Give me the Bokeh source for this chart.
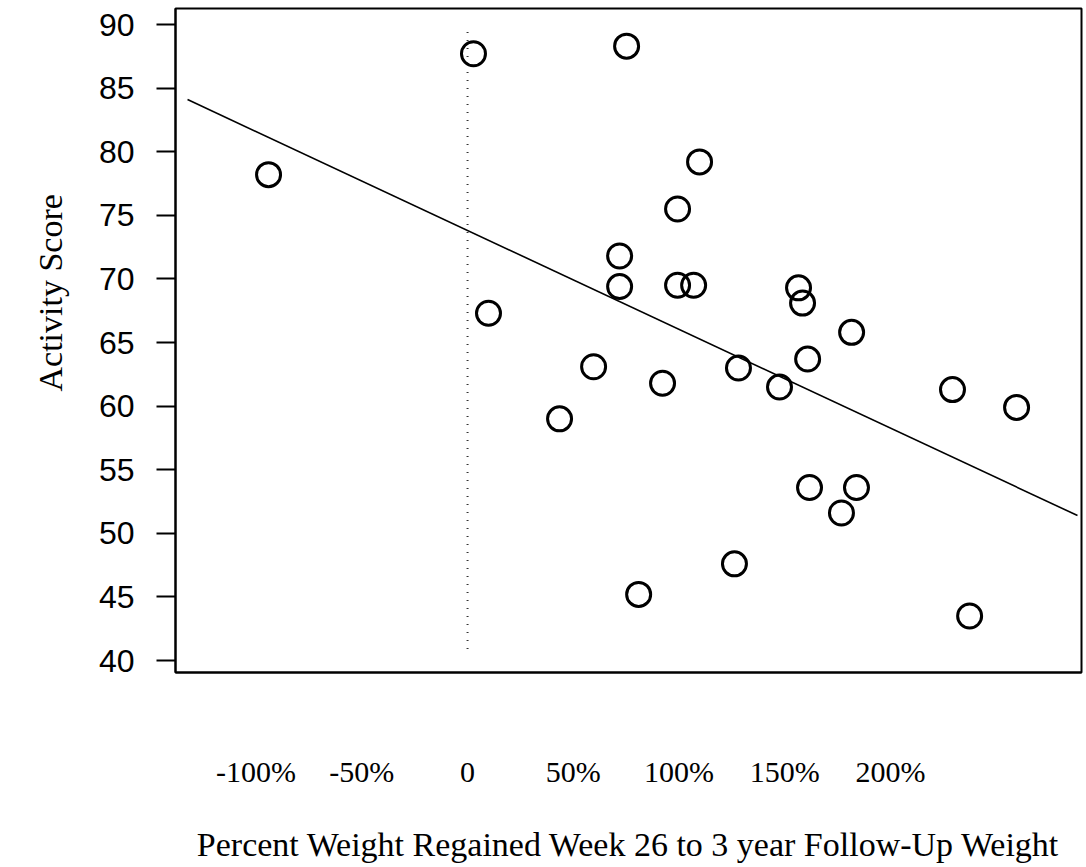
from bokeh.plotting import figure
from bokeh.embed import file_html
from bokeh.resources import INLINE
from bokeh.models import FixedTicker, Range1d, Title

# ---- data ----
weight_regain_pct = [-94.1, 2.8, 75.2, 9.9, 43.5, 59.6, 71.9, 71.9, 80.9, 92.2,
                     99.3, 99.3, 106.9, 109.7, 126.2, 128.1, 147.5, 156.5, 158.4,
                     160.8, 161.7, 181.6, 176.8, 183.9, 229.3, 237.4, 259.6]
activity_score = [78.2, 87.7, 88.3, 67.3, 59.0, 63.1, 71.8, 69.4, 45.2, 61.8,
                  75.5, 69.5, 69.5, 79.2, 47.6, 63.0, 61.5, 69.3, 68.1,
                  63.7, 53.6, 65.8, 51.6, 53.6, 61.3, 43.5, 59.9]

fit_x = [-132.4, 288.4]
fit_y = [84.1, 51.4]

zero_x = [0, 0]
zero_y = [40.9, 89.8]

x_ticks = [-100, -50, 0, 50, 100, 150, 200]
x_tick_labels = ["-100%", "-50%", "0", "50%", "100%", "150%", "200%"]
y_ticks = [40, 45, 50, 55, 60, 65, 70, 75, 80, 85, 90]

p = figure(frame_width=906, frame_height=664, output_backend="svg",
           toolbar_location=None,
           x_range=Range1d(-138.1, 290.3), y_range=Range1d(39.06, 91.26),
           min_border_left=175, min_border_right=4, min_border_top=8,
           min_border_bottom=0)

p.grid.visible = False
p.background_fill_color = "white"
p.border_fill_color = "white"
p.outline_line_color = "black"
p.outline_line_width = 2

# zero reference (dotted)
p.line(zero_x, zero_y, line_color="#333333", line_width=2, line_dash="1 7")
# regression line
p.line(fit_x, fit_y, line_color="black", line_width=1.6)
# points
p.scatter(weight_regain_pct, activity_score, marker="circle", size=24,
          fill_color=None, line_color="black", line_width=3)

# x axis
xa = p.xaxis[0]
xa.ticker = FixedTicker(ticks=x_ticks)
xa.major_label_overrides = {t: l for t, l in zip(x_ticks, x_tick_labels)}
xa.major_tick_out = 0
xa.major_tick_in = 0
xa.minor_tick_out = 0
xa.minor_tick_in = 0
xa.axis_line_width = 2
xa.major_label_standoff = 82
xa.major_label_text_font = "Liberation Serif"
xa.major_label_text_font_size = "30px"
xa.major_label_text_color = "black"
xa.axis_label = "Percent Weight Regained Week 26 to 3 year Follow-Up Weight"
xa.axis_label_text_font = "Liberation Serif"
xa.axis_label_text_font_size = "34px"
xa.axis_label_text_font_style = "normal"
xa.axis_label_text_color = "black"
xa.axis_label_standoff = 35

# y axis
ya = p.yaxis[0]
ya.ticker = FixedTicker(ticks=y_ticks)
ya.major_tick_out = 19
ya.major_tick_in = 0
ya.major_tick_line_width = 2
ya.minor_tick_out = 0
ya.minor_tick_in = 0
ya.axis_line_width = 2
ya.major_label_standoff = 22
ya.major_label_text_font = "Liberation Sans"
ya.major_label_text_font_size = "32px"
ya.major_label_text_color = "black"

ytitle = Title(text="Activity Score", align="left", offset=281, standoff=50,
               vertical_align="top",
               text_font="Liberation Serif", text_font_size="34px",
               text_font_style="normal", text_color="black")
p.add_layout(ytitle, "left")

open("out.html", "w").write(file_html(p, INLINE))
